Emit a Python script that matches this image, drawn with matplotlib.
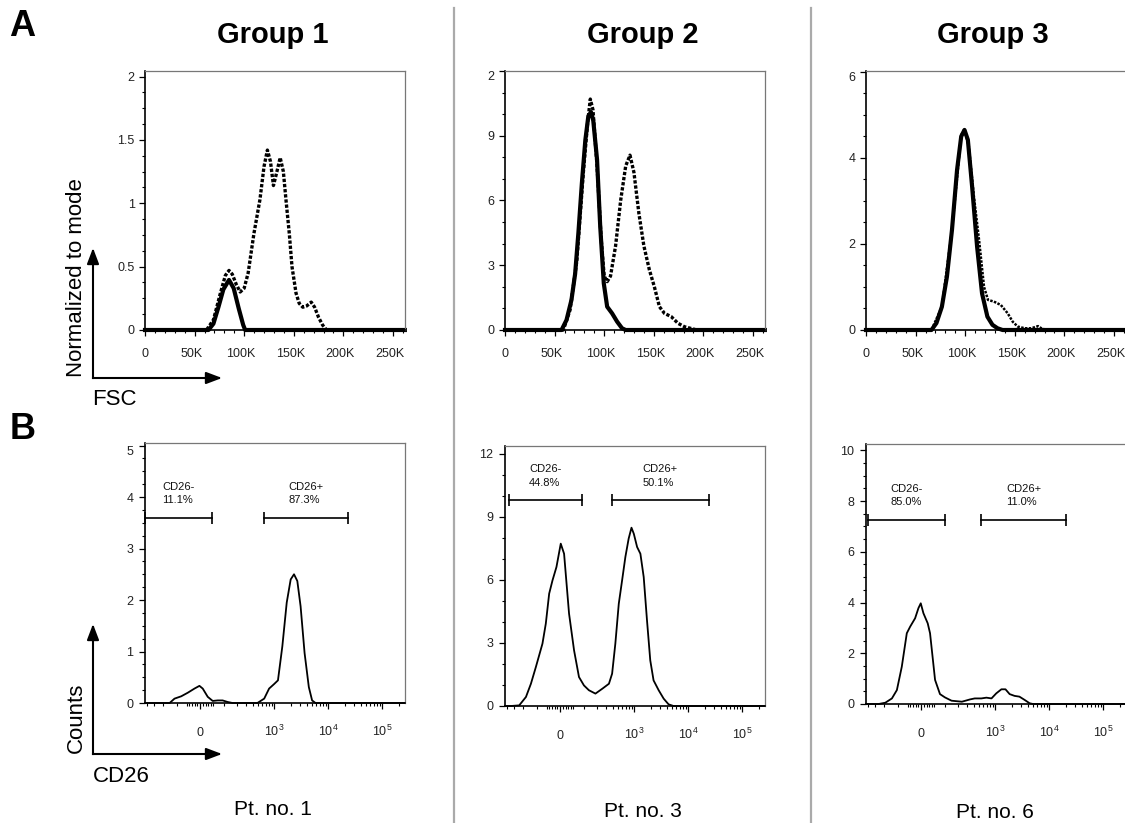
import numpy as np
import matplotlib
matplotlib.use("Agg")
import matplotlib.pyplot as plt
from matplotlib.ticker import MultipleLocator, FixedLocator, NullFormatter
from matplotlib.patches import FancyArrowPatch
from matplotlib.lines import Line2D
from matplotlib.transforms import ScaledTranslation

plt.rcParams['font.family'] = ['Liberation Sans', 'DejaVu Sans']
plt.rcParams['mathtext.default'] = 'regular'

W, H = 1125, 823

# ---------------- data ----------------
groups = ['Group 1', 'Group 2', 'Group 3']
patients = ['Pt. no. 1', 'Pt. no. 3', 'Pt. no. 6']

# panel A: FSC histograms (x in thousands), solid and dotted overlay
g1_solid_x = [0, 64, 69, 74, 79, 84.7, 89.4, 94.5, 99, 101, 262]
g1_solid_y = [0, 0, 0.05, 0.18, 0.32, 0.395, 0.33, 0.17, 0.04, 0, 0]
g1_dot_x = [0, 62, 69, 76, 81, 84.7, 88, 92, 96, 100, 104, 109.8, 115.9, 120, 123.4,
            126.5, 129.5, 133, 136.3, 139.5, 142.1, 145.5, 148.2, 152.3, 155.5, 159.1,
            163, 167.6, 171, 175, 179, 183, 262]
g1_dot_y = [0, 0, 0.08, 0.29, 0.43, 0.47, 0.44, 0.36, 0.30, 0.33, 0.45, 0.76, 1.03, 1.29, 1.42,
            1.33, 1.14, 1.25, 1.36, 1.25, 1.03, 0.76, 0.50, 0.29, 0.21, 0.18,
            0.19, 0.22, 0.18, 0.10, 0.04, 0, 0]

g2_solid_x = [0, 57, 62, 67, 70.7, 74, 77.5, 81, 84, 86.7, 89, 92.8, 96, 99.6, 103, 108,
              113, 118, 121.7, 262]
g2_solid_y = [0, 0, 0.46, 1.39, 2.6, 4.5, 6.8, 8.8, 9.9, 10.1, 9.7, 7.9, 4.8, 2.16, 1.08, 0.77,
              0.39, 0.08, 0, 0]
g2_dot_x = [0, 58.8, 65.6, 72.4, 79, 83.3, 86, 88.7, 92.8, 97, 100, 103, 106.4, 111.5, 116.6,
            121.7, 126, 130, 135, 140, 145.5, 150.6, 155.7, 160.8, 167.6, 174.4, 181, 191,
            193, 262]
g2_dot_y = [0, 0, 0.93, 3.2, 7.3, 9.6, 10.7, 10.2, 7.6, 4.2, 2.5, 2.24, 2.5, 3.9, 6.0,
            7.6, 8.1, 7.3, 5.4, 3.9, 2.8, 2.0, 1.08, 0.77, 0.62, 0.31, 0.15, 0.03,
            0, 0]

g3_solid_x = [0, 66, 71, 76.5, 81.6, 86.7, 91.8, 96, 99.3, 102.7, 107, 112, 117, 122.4,
              127.5, 132.6, 137.7, 262]
g3_solid_y = [0, 0, 0.16, 0.54, 1.24, 2.33, 3.72, 4.5, 4.65, 4.42, 3.33, 1.94, 0.85, 0.31,
              0.12, 0.04, 0, 0]
g3_dot_x = [0, 66, 76.5, 86.7, 96, 99.3, 103.7, 108.8, 114, 119, 123, 129, 136, 142.8,
            148, 153, 160, 166.6, 173.4, 176.8, 182, 262]
g3_dot_y = [0, 0, 0.54, 2.33, 4.53, 4.67, 4.26, 3.1, 2.09, 1.0, 0.70, 0.66, 0.58, 0.39,
            0.19, 0.08, 0.04, 0.04, 0.09, 0.04, 0, 0]

# panel B: CD26 histograms (raw fluorescence, biexponential axis)
pt1_x = [-440, -144, -112, -76, -46.5, -20.6, -2.4, 9.6, 28.1, 47.9, 69.9, 94.8, 124, 158,
         485, 649, 801, 988, 1170, 1410, 1700, 2013, 2320, 2670, 3070, 3640, 4360,
         5015, 5800, 262144]
pt1_y = [0, 0, 0.085, 0.13, 0.2, 0.28, 0.333, 0.28, 0.12, 0.04, 0.05, 0.05, 0.02, 0,
         0, 0.085, 0.28, 0.366, 0.44, 1.1, 1.95, 2.4, 2.5, 2.37, 1.88, 0.97, 0.31,
         0.05, 0, 0]

pt3_x = [-440, -340, -235, -172, -135, -104, -70, -55, -41, -28, -13.2, 2.4, 14.5, 33.2,
         53.6, 76, 102, 132.6, 182, 252, 335, 385, 443, 514, 593, 683, 786, 887, 980,
         1128, 1298, 1495, 1720, 1978, 2276, 2830, 3500, 4310, 5320, 262144]
pt3_y = [0, 0, 0.03, 0.43, 1.06, 1.86, 2.97, 3.92, 5.35, 5.98, 6.62, 7.73, 7.25, 4.4,
         2.65, 1.38, 0.98, 0.75, 0.59, 0.83, 1.06, 1.54, 2.97, 4.87, 5.98, 7.1, 7.97, 8.49, 8.2,
         7.57, 7.25, 6.14, 4.08, 2.17, 1.22, 0.75, 0.35, 0.08, 0, 0]

pt6_x = [-440, -252, -186, -135, -104, -78, -55, -41, -21.9, -9.6, -1.2, 8.4, 24.3, 33.2,
         53.6, 76, 102, 144, 234, 335, 413, 550, 683, 850, 1043, 1298, 1545, 1845,
         2276, 2800, 3500, 4310, 4970, 262144]
pt6_y = [0, 0, 0.05, 0.22, 0.55, 1.47, 2.79, 3.05, 3.38, 3.78, 3.97, 3.58, 3.18, 2.79,
         0.95, 0.39, 0.26, 0.13, 0.09, 0.18, 0.22, 0.22, 0.25, 0.22, 0.42, 0.58, 0.58, 0.39,
         0.32, 0.29, 0.16, 0.03, 0, 0]

# gates: (start, end), height, label
pt1_gates = [((-440, 45), 3.6, 'CD26-\n11.1%'), ((646, 22800), 3.6, 'CD26+\n87.3%')]
pt3_gates = [((-375, 89), 9.79, 'CD26-\n44.8%'), ((375, 24100), 9.79, 'CD26+\n50.1%')]
pt6_gates = [((-403, 102), 7.26, 'CD26-\n85.0%'), ((550, 20700), 7.26, 'CD26+\n11.0%')]

fsc_ticks = [0, 50, 100, 150, 200, 250]
fsc_labels = ['0', '50K', '100K', '150K', '200K', '250K']
cd26_ticks = [0, 1e3, 1e4, 1e5]
cd26_labels = ['0', '$10^3$', '$10^4$', '$10^5$']

a_yticks = [[0, 0.5, 1, 1.5, 2], [0, 3, 6, 9, 12], [0, 2, 4, 6]]
a_ylabels = [['0', '0.5', '1', '1.5', '2'], ['0', '3', '6', '9', '2'], ['0', '2', '4', '6']]
b_yticks = [[0, 1, 2, 3, 4, 5], [0, 3, 6, 9, 12], [0, 2, 4, 6, 8, 10]]

# ---------------- layout (pixel boxes) ----------------
A_BOXES = [(145, 71, 405, 330), (505, 71, 765, 330), (866, 71, 1126, 330)]
B_BOXES = [(145, 443, 405, 703), (505, 446, 765, 706), (866, 444, 1126, 704)]
A_YTOP = [2.044, 12.0, 6.02]
B_YTOP = [5.05, 12.38, 10.25]
A_YMINOR = [0.125, 1, 0.5]
B_YMINOR = [0.25, 1, 0.5]

C = 85.0


def fwd(x):
    return np.arcsinh(np.asarray(x, dtype=float) / C)


def inv(y):
    return C * np.sinh(np.asarray(y, dtype=float))


def box(l, t, r, b):
    return [l / W, 1 - b / H, (r - l) / W, (b - t) / H]


def fp(x, y):
    return (x / W, 1 - y / H)


def style(ax, ypad):
    for s in ['left', 'bottom']:
        ax.spines[s].set_color('black')
        ax.spines[s].set_linewidth(1.2)
    for s in ['top', 'right']:
        ax.spines[s].set_color('#777777')
        ax.spines[s].set_linewidth(0.9)
    ax.tick_params(which='both', direction='out', top=False, right=False,
                   color='black', labelcolor='#222222', labelsize=9)
    ax.tick_params(which='major', length=4.5, width=0.9)
    ax.tick_params(which='minor', length=2.3, width=0.8)
    ax.tick_params(axis='y', pad=ypad)


def set_y(ax, ticks, labels, top, minor):
    ax.set_ylim(0, top)
    ax.set_yticks(ticks, labels)
    ax.yaxis.set_minor_locator(MultipleLocator(minor))
    if (top - ticks[-1]) / top < 0.02:
        ax.get_yticklabels()[-1].set_va('top')


fig = plt.figure(figsize=(W / 100, H / 100), dpi=100)
shift_left = ScaledTranslation(-3 / 100, 0, fig.dpi_scale_trans)

# ---------------- panel A ----------------
a_data = [(g1_solid_x, g1_solid_y, g1_dot_x, g1_dot_y),
          (g2_solid_x, g2_solid_y, g2_dot_x, g2_dot_y),
          (g3_solid_x, g3_solid_y, g3_dot_x, g3_dot_y)]
dot_lw = [2.4, 2.4, 1.8]

for i, (sx, sy, dx, dy) in enumerate(a_data):
    ax = fig.add_axes(box(*A_BOXES[i]))
    style(ax, 3)
    ax.plot(dx, dy, color='black', lw=dot_lw[i], ls=(0, (1, 0.55)), clip_on=False)
    ax.plot(sx, sy, color='black', lw=3.0, solid_joinstyle='round', clip_on=False)
    ax.set_xlim(0, 262.144)
    ax.tick_params(axis='x', pad=8.5)
    ax.set_xticks(fsc_ticks, fsc_labels)
    ax.xaxis.set_minor_locator(MultipleLocator(10))
    for t in ax.xaxis.get_major_ticks()[1:]:
        t.label1.set_transform(t.label1.get_transform() + shift_left)
    set_y(ax, a_yticks[i], a_ylabels[i], A_YTOP[i], A_YMINOR[i])

# ---------------- panel B ----------------
b_data = [(pt1_x, pt1_y, pt1_gates), (pt3_x, pt3_y, pt3_gates), (pt6_x, pt6_y, pt6_gates)]
biex_minor = [-400, -300, -200, -100, -50, -40, -30, -20, -10, 10, 20, 30, 40, 50, 100]
biex_minor += [m * 10 ** e for e in (2, 3, 4) for m in range(2, 10)] + [2e5]

for i, (x, y, gates) in enumerate(b_data):
    ax = fig.add_axes(box(*B_BOXES[i]))
    style(ax, 4)
    ax.set_xscale('function', functions=(fwd, inv))
    ax.set_xlim(-440, 262144)
    ax.plot(x, y, color='black', lw=1.3, clip_on=False)
    ax.tick_params(axis='x', pad=19)
    ax.set_xticks(cd26_ticks, cd26_labels)
    ax.xaxis.set_minor_locator(FixedLocator(biex_minor))
    ax.xaxis.set_minor_formatter(NullFormatter())
    for lab in ax.get_xticklabels():
        lab.set_va('baseline')
    set_y(ax, b_yticks[i], [str(t) for t in b_yticks[i]], B_YTOP[i], B_YMINOR[i])

    for (a, b), gy, text in gates:
        ax.plot([a, b], [gy, gy], color='black', lw=1.2, marker='|', ms=9, mew=1.2,
                clip_on=False)
        xc = float(inv((fwd(a) + fwd(b)) / 2))
        ax.annotate(text, xy=(xc, gy), xytext=(0, 9), textcoords='offset points',
                    ha='center', va='bottom', fontsize=8, multialignment='left',
                    linespacing=1.45, color='#111111')

# ---------------- figure text ----------------
for name, cx in zip(groups, [273, 643, 993]):
    fig.text(*fp(cx, 43), name, ha='center', va='baseline', fontsize=21, fontweight='bold')
for name, cx, by in zip(patients, [273, 643, 995], [815, 817, 818]):
    fig.text(*fp(cx, by), name, ha='center', va='baseline', fontsize=15)

fig.text(*fp(22, 27), 'A', ha='center', va='center', fontsize=26, fontweight='bold')
fig.text(*fp(23, 430), 'B', ha='center', va='center', fontsize=26, fontweight='bold')

fig.text(*fp(77, 278), 'Normalized to mode', rotation=90, ha='center', va='center', fontsize=16)
fig.text(*fp(92, 405), 'FSC', ha='left', va='baseline', fontsize=16)
fig.text(*fp(76, 718), 'Counts', rotation=90, ha='center', va='center', fontsize=16)
fig.text(*fp(93, 782), 'CD26', ha='left', va='baseline', fontsize=16)

for ox, oy in [(93, 378), (93, 754)]:
    for tx, ty in [(ox, oy - 130), (ox + 129, oy)]:
        arr = FancyArrowPatch(fp(ox, oy), fp(tx, ty), transform=fig.transFigure,
                              arrowstyle='-|>,head_length=0.95,head_width=0.36',
                              mutation_scale=10, lw=1.5, color='black',
                              shrinkA=0, shrinkB=0, capstyle='projecting')
        fig.add_artist(arr)

for sx in [454, 811]:
    fig.add_artist(Line2D([sx / W, sx / W], [1 - 8 / H, 0], color='#aaaaaa', lw=1.6))

fig.savefig('out.png', dpi=100)
